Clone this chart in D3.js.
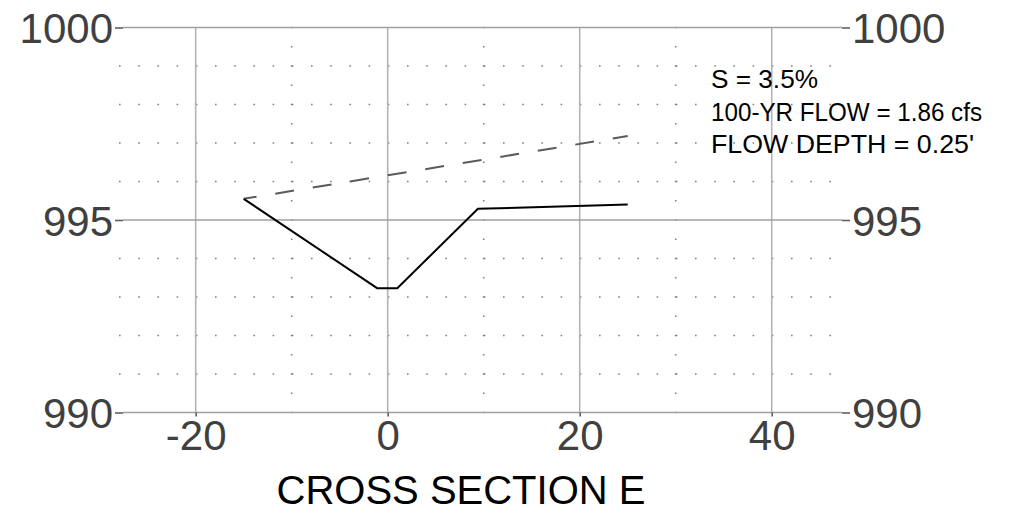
<!DOCTYPE html>
<html>
<head>
<meta charset="utf-8">
<script src="https://cdn.jsdelivr.net/npm/d3@7"></script>
<style>
  html, body { margin: 0; padding: 0; background: #fff; }
  svg { display: block; font-family: "Liberation Sans", Arial, sans-serif; }
</style>
</head>
<body>
<svg id="chart" width="1013" height="529"></svg>
<script>
// ---- data ----
const groundX = [-15, -1.1, 1.0, 9.4, 25];
const groundY = [995.55, 993.23, 993.23, 995.29, 995.4];
const waterX = [-15, 25];
const waterY = [995.55, 997.18];
const xTicks = [-20, 0, 20, 40];
const xMinorTicks = [-10, 10, 30];
const yTicks = [990, 995, 1000];
const yMinorTicks = [991, 992, 993, 994, 996, 997, 998, 999];
const notes = ["S = 3.5%", "100-YR FLOW = 1.86 cfs", "FLOW DEPTH = 0.25'"];
const noteWidths = [107, 271, 263];
const title = "CROSS SECTION E";

const svg = d3.select("#chart");
const x = d3.scaleLinear().domain([-27.57, 47.32]).range([123, 842]);
const y = d3.scaleLinear().domain([990, 1000]).range([412.5, 27.5]);
const [x0, x1] = x.range();
const [yb, yt] = y.range();

// minor dotted horizontal grid
svg.append("g").selectAll("line").data(yMinorTicks).join("line")
  .attr("x1", 119).attr("x2", x1)
  .attr("y1", d => y(d)).attr("y2", d => y(d))
  .attr("stroke", "#808080").attr("stroke-width", 1.6)
  .attr("stroke-dasharray", "1.6 17.6");

// minor dotted vertical grid
svg.append("g").selectAll("line").data(xMinorTicks).join("line")
  .attr("x1", d => x(d)).attr("x2", d => x(d))
  .attr("y1", yt - 0.8).attr("y2", yb + 1)
  .attr("stroke", "#808080").attr("stroke-width", 1.6)
  .attr("stroke-dasharray", "1.6 17.65");

// major vertical grid
svg.append("g").selectAll("line").data(xTicks).join("line")
  .attr("x1", d => x(d)).attr("x2", d => x(d))
  .attr("y1", yt).attr("y2", yb)
  .attr("stroke", "#b4b4b4").attr("stroke-width", 1.6);

// major horizontal grid
svg.append("g").selectAll("line").data(yTicks).join("line")
  .attr("x1", x0).attr("x2", x1)
  .attr("y1", d => y(d)).attr("y2", d => y(d))
  .attr("stroke", "#a0a0a0").attr("stroke-width", 1.6);

// axes (ticks + labels)
const tickFont = 42;
const fmt = d => String(d);
const axL = svg.append("g").attr("transform", `translate(${x0},0)`)
  .call(d3.axisLeft(y).tickValues(yTicks).tickSize(8).tickPadding(2).tickFormat(fmt));
const axR = svg.append("g").attr("transform", `translate(${x1},0)`)
  .call(d3.axisRight(y).tickValues(yTicks).tickSize(8).tickPadding(2).tickFormat(fmt));
const axB = svg.append("g").attr("transform", `translate(0,${yb})`)
  .call(d3.axisBottom(x).tickValues(xTicks).tickSize(4).tickPadding(4).tickFormat(fmt));
[axL, axR, axB].forEach(g => {
  g.select(".domain").remove();
  g.selectAll(".tick line").attr("stroke", "#606060").attr("stroke-width", 1.6);
  g.selectAll(".tick text").attr("fill", "#404040")
    .style("font-size", tickFont + "px")
    .style("font-family", '"Liberation Sans", Arial, sans-serif');
});
axL.selectAll(".tick text").attr("dy", "0.36em");
axR.selectAll(".tick text").attr("dy", "0.36em");

// water surface (dashed)
const line = d3.line().x(d => x(d[0])).y(d => y(d[1]));
svg.append("path")
  .datum(d3.zip(waterX, waterY))
  .attr("d", line)
  .attr("fill", "none").attr("stroke", "#5a5a5a").attr("stroke-width", 2)
  .attr("stroke-dasharray", "19 19").attr("stroke-dashoffset", 6);

// ground profile
svg.append("path")
  .datum(d3.zip(groundX, groundY))
  .attr("d", line)
  .attr("fill", "none").attr("stroke", "#000").attr("stroke-width", 2)
  .attr("stroke-linejoin", "miter");

// notes
svg.append("g").selectAll("text").data(notes).join("text")
  .attr("x", 711).attr("y", (d, i) => 88 + i * 32.6)
  .attr("fill", "#000").style("font-size", "25px")
  .attr("textLength", (d, i) => noteWidths[i])
  .attr("lengthAdjust", "spacingAndGlyphs")
  .text(d => d);

// title
svg.append("text")
  .attr("x", 461).attr("y", 504)
  .attr("text-anchor", "middle")
  .attr("fill", "#000").style("font-size", "40px")
  .text(title);
</script>
</body>
</html>
